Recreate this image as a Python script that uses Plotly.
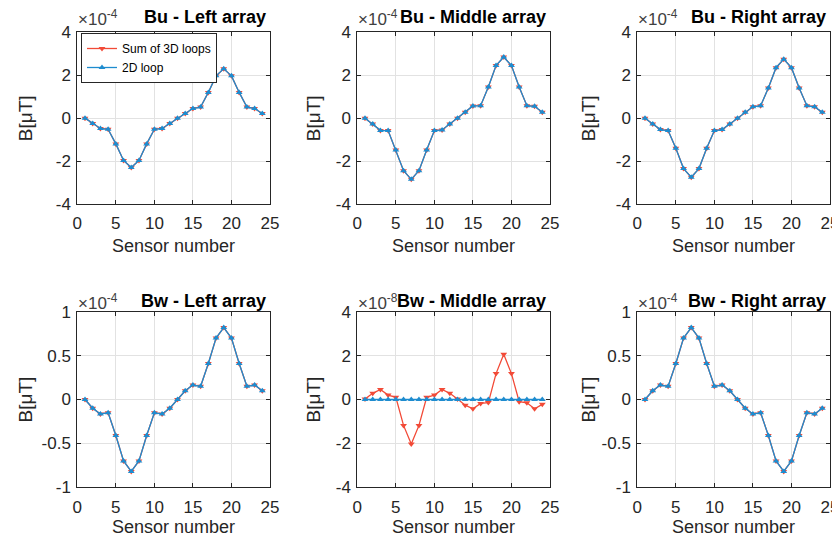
import plotly.graph_objects as go

# page body adds an 8px margin; the figure is sized so that it fills the window
OFF = 8
W, H = 840 - OFF, 542 - OFF

# ---------------- data ----------------
sensor = list(range(1, 25))

# Bu, in units of 1e-4 uT
bu_left_3d = [0.00, -0.25, -0.48, -0.52, -1.20, -1.97, -2.30, -1.97, -1.20, -0.52, -0.48, -0.25,
              0.00, 0.22, 0.45, 0.52, 1.20, 1.97, 2.30, 1.97, 1.20, 0.52, 0.45, 0.22]
bu_left_2d = [0.00, -0.25, -0.48, -0.52, -1.20, -1.97, -2.30, -1.97, -1.20, -0.52, -0.48, -0.25,
              0.00, 0.22, 0.45, 0.52, 1.20, 1.97, 2.30, 1.97, 1.20, 0.52, 0.45, 0.22]
bu_middle_3d = [0.00, -0.27, -0.57, -0.58, -1.48, -2.45, -2.85, -2.45, -1.48, -0.58, -0.55, -0.27,
                0.00, 0.27, 0.57, 0.58, 1.45, 2.45, 2.85, 2.45, 1.45, 0.58, 0.55, 0.27]
bu_middle_2d = [0.00, -0.27, -0.57, -0.58, -1.48, -2.45, -2.85, -2.45, -1.48, -0.58, -0.55, -0.27,
                0.00, 0.27, 0.57, 0.58, 1.45, 2.45, 2.85, 2.45, 1.45, 0.58, 0.55, 0.27]
bu_right_3d = [0.00, -0.27, -0.53, -0.58, -1.40, -2.35, -2.75, -2.35, -1.40, -0.58, -0.53, -0.27,
               0.00, 0.27, 0.53, 0.58, 1.40, 2.35, 2.75, 2.35, 1.40, 0.58, 0.53, 0.27]
bu_right_2d = [0.00, -0.27, -0.53, -0.58, -1.40, -2.35, -2.75, -2.35, -1.40, -0.58, -0.53, -0.27,
               0.00, 0.27, 0.53, 0.58, 1.40, 2.35, 2.75, 2.35, 1.40, 0.58, 0.53, 0.27]

# Bw, left/right in units of 1e-4 uT, middle in units of 1e-8 uT
bw_left_3d = [0.00, -0.10, -0.165, -0.15, -0.41, -0.70, -0.82, -0.70, -0.41, -0.15, -0.165, -0.10,
              0.00, 0.10, 0.165, 0.15, 0.41, 0.70, 0.82, 0.70, 0.41, 0.15, 0.165, 0.10]
bw_left_2d = [0.00, -0.10, -0.165, -0.15, -0.41, -0.70, -0.82, -0.70, -0.41, -0.15, -0.165, -0.10,
              0.00, 0.10, 0.165, 0.15, 0.41, 0.70, 0.82, 0.70, 0.41, 0.15, 0.165, 0.10]
bw_middle_3d = [0.02, 0.28, 0.46, 0.20, 0.10, -1.18, -2.03, -1.18, 0.10, 0.20, 0.46, 0.28,
                0.02, -0.26, -0.42, -0.18, -0.14, 1.18, 2.06, 1.18, -0.10, -0.15, -0.42, -0.22]
bw_middle_2d = [0.0] * 24
bw_right_3d = [0.00, 0.10, 0.165, 0.15, 0.41, 0.70, 0.82, 0.70, 0.41, 0.15, 0.165, 0.10,
               0.00, -0.10, -0.165, -0.15, -0.41, -0.70, -0.82, -0.70, -0.41, -0.15, -0.165, -0.10]
bw_right_2d = [0.00, 0.10, 0.165, 0.15, 0.41, 0.70, 0.82, 0.70, 0.41, 0.15, 0.165, 0.10,
               0.00, -0.10, -0.165, -0.15, -0.41, -0.70, -0.82, -0.70, -0.41, -0.15, -0.165, -0.10]

titles = ["Bu - Left array", "Bu - Middle array", "Bu - Right array",
          "Bw - Left array", "Bw - Middle array", "Bw - Right array"]
exponents = ["-4", "-4", "-4", "-4", "-8", "-4"]
series_3d = [bu_left_3d, bu_middle_3d, bu_right_3d, bw_left_3d, bw_middle_3d, bw_right_3d]
series_2d = [bu_left_2d, bu_middle_2d, bu_right_2d, bw_left_2d, bw_middle_2d, bw_right_2d]

x_ticks = [0, 5, 10, 15, 20, 25]
x_ticktext = ["0", "5", "10", "15", "20", "25"]
y_ticks_4 = [-4, -2, 0, 2, 4]
y_ticktext_4 = ["-4", "-2", "0", "2", "4"]
y_ticks_1 = [-1, -0.5, 0, 0.5, 1]
y_ticktext_1 = ["-1", "-0.5", "0", "0.5", "1"]
y_ranges = [[-4, 4], [-4, 4], [-4, 4], [-1, 1], [-4, 4], [-1, 1]]
y_ticks = [y_ticks_4, y_ticks_4, y_ticks_4, y_ticks_1, y_ticks_4, y_ticks_1]
y_ticktexts = [y_ticktext_4, y_ticktext_4, y_ticktext_4, y_ticktext_1, y_ticktext_4, y_ticktext_1]

# ---------------- styling / layout ----------------
RED = "#F24A37"
BLUE = "#1E8CCF"
AX = "#262626"
GRID = "#e2e2e2"
FONT = "Liberation Sans, Arial, sans-serif"

# positions in window pixels (converted to paper coords below)
col_px = [(77.3, 270.0), (357.3, 550.0), (637.3, 830.0)]
row_px = [(32.3, 204.0), (311.7, 487.3)]


def px(xw):
    return (xw - OFF) / W


def py(yw):
    return 1 - (yw - OFF) / H


fig = go.Figure()
annotations = []

for i in range(6):
    r, c = divmod(i, 3)
    xa = "x" if i == 0 else f"x{i+1}"
    ya = "y" if i == 0 else f"y{i+1}"
    first = (i == 0)
    fig.add_trace(go.Scatter(
        x=sensor, y=series_3d[i], xaxis=xa, yaxis=ya, mode="lines+markers",
        name="Sum of 3D loops", showlegend=first, legendgroup="a",
        line=dict(color=RED, width=1.3),
        marker=dict(symbol="triangle-down", size=6, color=RED)))
    fig.add_trace(go.Scatter(
        x=sensor, y=series_2d[i], xaxis=xa, yaxis=ya, mode="lines+markers",
        name="2D loop", showlegend=first, legendgroup="b",
        line=dict(color=BLUE, width=1.3),
        marker=dict(symbol="triangle-up", size=6, color=BLUE)))

    x0, x1 = col_px[c]
    t0, t1 = row_px[r]
    xd = [px(x0), px(x1)]
    yd = [py(t1), py(t0)]
    axkey = "xaxis" if i == 0 else f"xaxis{i+1}"
    aykey = "yaxis" if i == 0 else f"yaxis{i+1}"
    common = dict(showline=True, linecolor=AX, linewidth=1, mirror="allticks",
                  ticks="inside", ticklen=4, tickcolor=AX, showgrid=True,
                  gridcolor=GRID, gridwidth=1, zeroline=False, automargin=False,
                  tickfont=dict(family=FONT, size=17, color=AX), fixedrange=True)
    fig.update_layout({
        axkey: dict(domain=xd, range=[0, 25], tickmode="array", tickvals=x_ticks,
                    ticktext=x_ticktext, anchor=ya, ticklabelstandoff=4, **common),
        aykey: dict(domain=yd, range=y_ranges[i], tickmode="array", tickvals=y_ticks[i],
                    ticktext=y_ticktexts[i], anchor=xa, ticklabelstandoff=2, **common),
    })

    title_y = [17, 301][r]
    annotations.append(dict(
        text=f"<b>{titles[i]}</b>", xref="paper", yref="paper",
        x=px(x1 - 2), y=py(title_y), xanchor="right", yanchor="middle",
        showarrow=False, font=dict(family=FONT, size=18, color="#000000")))
    annotations.append(dict(
        text=f"×10<sup>{exponents[i]}</sup>", xref="paper", yref="paper",
        x=px(x0 - 1), y=py(title_y + 1), xanchor="left", yanchor="middle",
        showarrow=False, font=dict(family=FONT, size=17, color="#404040")))
    xl_y = [246, 527][r]
    annotations.append(dict(
        text="Sensor number", xref="paper", yref="paper",
        x=px((x0 + x1) / 2), y=py(xl_y), xanchor="center", yanchor="middle",
        showarrow=False, font=dict(family=FONT, size=18, color=AX)))
    yl_x = [25, 313, 588][c]
    annotations.append(dict(
        text="B[μT]", xref="paper", yref="paper", textangle=-90,
        x=px(yl_x), y=py((t0 + t1) / 2), xanchor="center", yanchor="middle",
        showarrow=False, font=dict(family=FONT, size=19, color=AX)))

fig.update_layout(
    width=W, height=H, margin=dict(l=0, r=0, t=0, b=0),
    paper_bgcolor="white", plot_bgcolor="white",
    annotations=annotations,
    legend=dict(x=px(81), y=py(33), xanchor="left", yanchor="top",
                bgcolor="white", bordercolor=AX, borderwidth=1,
                font=dict(family=FONT, size=12, color="#000000"),
                tracegroupgap=0, itemwidth=30),
)

fig.write_html("out.html")
